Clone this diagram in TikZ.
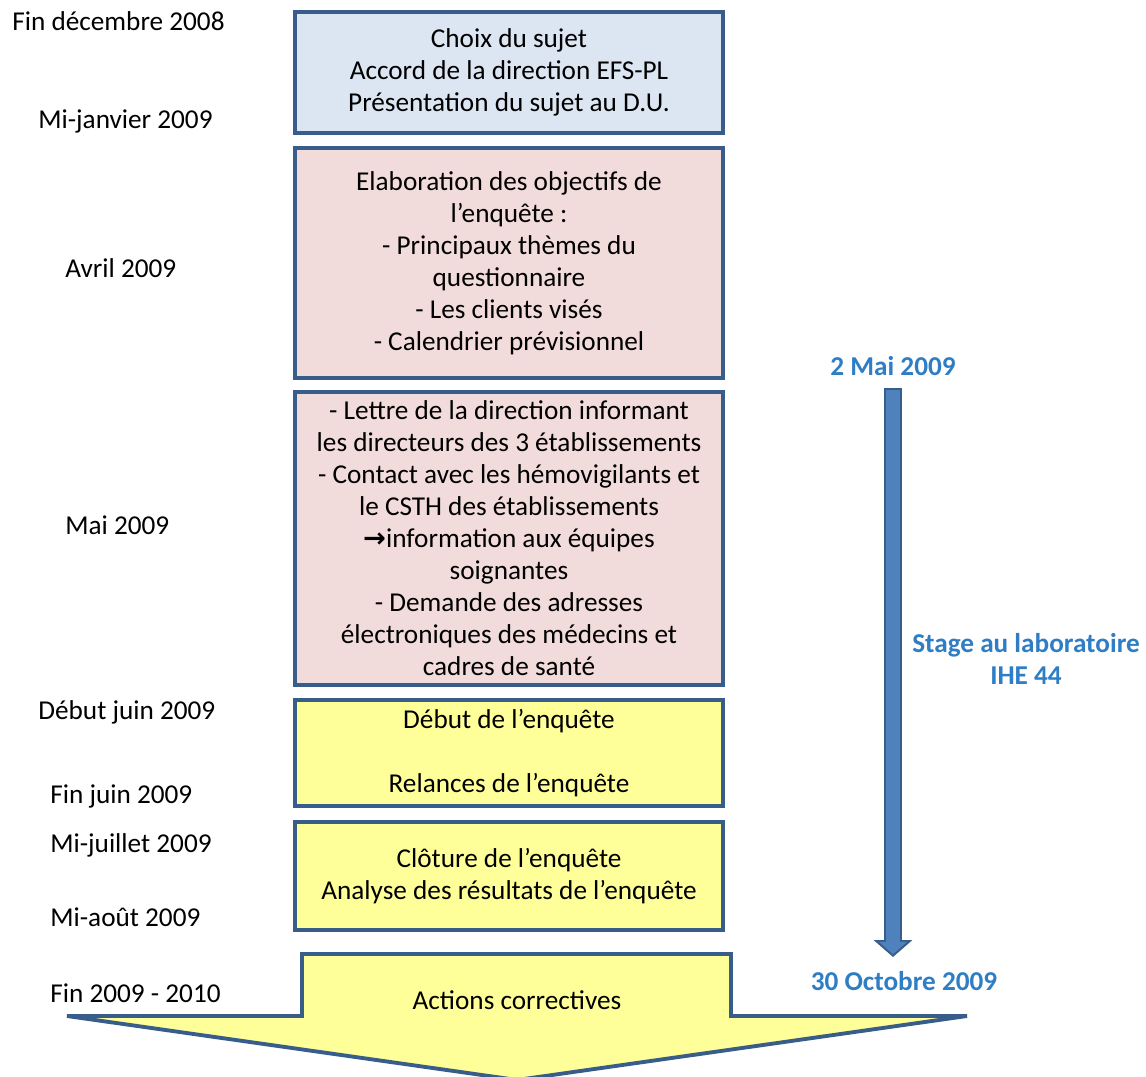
\documentclass[tikz,border=0pt]{standalone}
\usepackage{fontspec}
\setmainfont{Carlito}
\newfontfamily\symboles{DejaVu Sans}
\usetikzlibrary{arrows.meta}
\definecolor{bordbleu}{RGB}{56,93,138}
\definecolor{fondbleu}{RGB}{220,230,242}
\definecolor{fondrose}{RGB}{242,220,219}
\definecolor{fondjaune}{RGB}{255,255,153}
\definecolor{textebleu}{RGB}{47,125,196}
\definecolor{flechebleu}{RGB}{79,129,189}
\tikzset{
  etape/.style={draw=bordbleu, line width=2.2pt, rectangle, minimum width=8.56cm,
    inner sep=0pt, align=center, font=\fontsize{15.5}{18.2}\selectfont},
  date/.style={anchor=west, inner sep=0pt, font=\fontsize{15.5}{18.2}\selectfont},
  repere/.style={inner sep=0pt, align=center, text=textebleu,
    font=\bfseries\fontsize{15.5}{18.2}\selectfont},
}
\begin{document}
\begin{tikzpicture}[x=0.02cm, y=-0.02cm]
    \useasboundingbox (0,0) rectangle (1146,1077);
    % Etapes
    \node[etape, fill=fondbleu, minimum height=2.42cm] (choix) at (509,72.5)
        {Choix du sujet\\Accord de la direction EFS-PL\\Présentation du sujet au D.U.};
    \node[etape, fill=fondrose, minimum height=4.6cm] (objectifs) at (509,263)
        {Elaboration des objectifs de\\l’enquête :\\- Principaux thèmes du\\questionnaire\\- Les clients visés\\- Calendrier prévisionnel};
    \node[etape, fill=fondrose, minimum height=5.86cm] (contacts) at (509,538.5)
        {- Lettre de la direction informant\\les directeurs des 3 établissements\\- Contact avec les hémovigilants et\\le CSTH des établissements\\{\symboles\bfseries →}information aux équipes\\soignantes\\- Demande des adresses\\électroniques des médecins et\\cadres de santé};
    \node[etape, fill=fondjaune, minimum height=2.12cm] (debut) at (509,753)
        {Début de l’enquête\\[18.2pt]Relances de l’enquête};
    \node[etape, fill=fondjaune, minimum height=2.16cm] (cloture) at (509,876)
        {Clôture de l’enquête\\Analyse des résultats de l’enquête};
    % Grande fleche
    \draw[draw=bordbleu, fill=fondjaune, line width=2.2pt, line join=miter]
        (302,954) -- (731,954) -- (731,1016) -- (967,1016) -- (517,1080)
        -- (67,1016) -- (302,1016) -- cycle;
    \node[inner sep=0pt, font=\fontsize{15.5}{18.2}\selectfont] (actions) at (517,1000) {Actions correctives};
    % Dates
    \node[date] (d1) at (12,21) {Fin décembre 2008};
    \node[date] (d2) at (38,121) {Mi-janvier 2009};
    \node[date] (d3) at (65,268) {Avril 2009};
    \node[date] (d4) at (65,525) {Mai 2009};
    \node[date] (d5) at (38,712) {Début juin 2009};
    \node[date] (d6) at (50,796) {Fin juin 2009};
    \node[date] (d7) at (50,845) {Mi-juillet 2009};
    \node[date] (d8) at (50,917) {Mi-août 2009};
    \node[date] (d9) at (50,993) {Fin 2009 - 2010};
    % Stage
    \node[repere] (mai) at (893,366) {2 Mai 2009};
    \node[repere] (stage) at (1026,659) {Stage au laboratoire\\IHE 44};
    \node[repere] (octobre) at (904,981) {30 Octobre 2009};
    \coordinate (stage debut) at (893,388);
    \coordinate (stage fin) at (893,957);
    \draw[bordbleu, line width=0.36cm, -{Triangle[width=0.76cm,length=0.34cm]}] (stage debut) -- (stage fin);
    \draw[flechebleu, line width=0.28cm, shorten <=0.04cm, shorten >=0.054cm,
        -{Triangle[width=0.55cm,length=0.25cm]}] (stage debut) -- (stage fin);
\end{tikzpicture}
\end{document}
